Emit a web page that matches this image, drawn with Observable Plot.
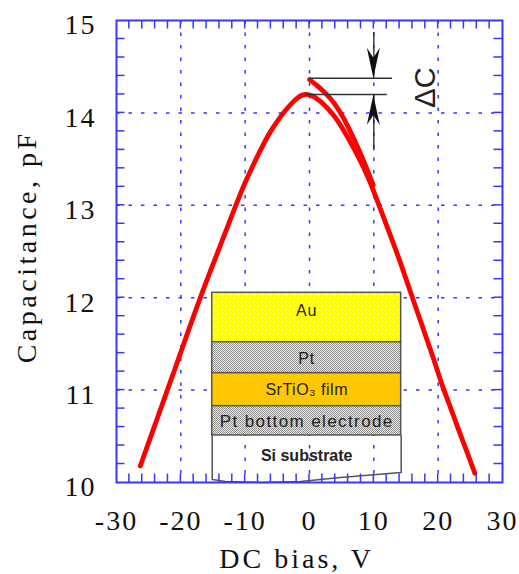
<!DOCTYPE html>
<html><head><meta charset="utf-8">
<script src="https://cdn.jsdelivr.net/npm/d3@7"></script>
<script src="https://cdn.jsdelivr.net/npm/@observablehq/plot@0.6"></script>
<style>
body{margin:0;background:#fff;}
#chart svg{display:block;}
</style></head><body><div id="chart"></div>
<script>
// ---- data ----
// forward sweep (-26 V -> +26 V), passes through the peak
const sweepBias = [-26.3, -24.5, -22.1, -20.6, -19, -17, -15.4, -13.5, -11.5, -10.2, -8.8, -7.6, -6.5, -5.6, -4.5, -3.5, -2, -0.9, 0.5, 1.7, 3.8, 5, 6.9, 8.5, 9.5, 10.7, 12.5, 14.2, 15.7, 17.5, 19.3, 20.6, 22, 23, 24.5, 25.7];
const sweepCap  = [10.18, 10.53, 11.0, 11.29, 11.61, 12.0, 12.29, 12.63, 12.99, 13.22, 13.43, 13.6, 13.75, 13.85, 13.96, 14.05, 14.16, 14.21, 14.19, 14.13, 13.98, 13.85, 13.62, 13.4, 13.24, 13.02, 12.69, 12.37, 12.06, 11.7, 11.34, 11.05, 10.8, 10.6, 10.33, 10.1];
// return branch ending at 0 V (upper, higher capacitance)
const returnBias = [0, 1.5, 3.3, 4.6, 5.9, 7.9, 9.0, 9.9];
const returnCap  = [14.36, 14.28, 14.16, 14.03, 13.87, 13.57, 13.38, 13.22];

const xTickValues = [-30, -20, -10, 0, 10, 20, 30];
const yTickValues = [10, 11, 12, 13, 14, 15];
const xGridValues = [-20, -10, 0, 10, 20];
const yGridValues = [11, 12, 13, 14];
const xMinorTicks = d3.range(1, 30).map(i => -30 + 2 * i);
const yMinorTicks = d3.range(1, 25).map(i => 10 + 0.2 * i);

const layerNames = ["Au", "Pt", "SrTiO\u2083 film", "Pt bottom electrode", "Si substrate"];
const deltaCLevels = [14.376, 14.198]; // max C of the return branch, peak of the sweep
const deltaCLabel = "\u0394C";
const xTitle = "DC bias, V";
const yTitle = "Capacitance, pF";

// ---- layout (data units) and styles ----
const inset = {x1: -15.12, x2: 14.25, bounds: [12.053, 11.518, 11.183, 10.826, 10.509],
  bottom: [[-15.12, 10.032], [-13.06, 10.011], [-7.6, 10.0], [-1.4, 10.011], [4.8, 10.054], [14.25, 10.108]]};
const fills = ["url(#auDots)", "url(#ptDots)", "#ffc800", "url(#ptDots)", "none"];
const labelStyle = [
  {size: 16, weight: "normal", spacing: 1, dy: -7},
  {size: 16, weight: "normal", spacing: 1, dy: 1},
  {size: 16, weight: "normal", spacing: 0.5, dy: 0},
  {size: 17, weight: "normal", spacing: 1.4, dy: 1},
  {size: 16, weight: "bold", spacing: 0, dy: 0}
];
const annot = {arrowX: 10, upperLine: [0, 12.9], lowerLine: [-0.6, 12.1], shaftTop: 14.87, shaftBottom: 13.59, labelX: 18.0, labelY: 14.275};
const blue = "#3636ff";
const serif = "'Liberation Serif', 'Times New Roman', serif";
const sans = "'Liberation Sans', Arial, sans-serif";

const sweep = sweepBias.map((v, i) => ({v, c: sweepCap[i]}));
const ret = returnBias.map((v, i) => ({v, c: returnCap[i]}));

const layerRects = layerNames.slice(0, 4).map((name, i) => ({name, y1: inset.bounds[i + 1], y2: inset.bounds[i]}));
const siOutline = [[inset.x1, inset.bounds[4]], ...inset.bottom, [inset.x2, inset.bounds[4]]];
const labelY = layerNames.map((n, i) => i < 4 ? (inset.bounds[i] + inset.bounds[i + 1]) / 2 : (inset.bounds[4] + 10.07) / 2);

function innerTicks(index, scales) {
  const {x, y} = scales;
  const g = d3.create("svg:g").attr("stroke", blue).attr("stroke-width", 1.5);
  const top = y(15), bottom = y(10), left = x(-30), right = x(30), L = 8.5;
  for (const v of xMinorTicks) {
    const px = x(v);
    g.append("line").attr("x1", px).attr("x2", px).attr("y1", bottom).attr("y2", bottom - L);
    g.append("line").attr("x1", px).attr("x2", px).attr("y1", top).attr("y2", top + L);
  }
  for (const v of yMinorTicks) {
    const py = y(v);
    g.append("line").attr("y1", py).attr("y2", py).attr("x1", left).attr("x2", left + L);
    g.append("line").attr("y1", py).attr("y2", py).attr("x1", right).attr("x2", right - L);
  }
  return g.node();
}

function arrowHeads(index, scales) {
  const {x, y} = scales;
  const g = d3.create("svg:g").attr("fill", "#111");
  const px = x(annot.arrowX);
  const tD = y(deltaCLevels[0]), tU = y(deltaCLevels[1]) + 1;
  const L = 30, W = 6.5, N = 10;
  g.append("path").attr("d", `M${px},${tD}L${px - W},${tD - L}L${px},${tD - L + N}L${px + W},${tD - L}Z`);
  g.append("path").attr("d", `M${px},${tU}L${px - W},${tU + L}L${px},${tU + L - N}L${px + W},${tU + L}Z`);
  return g.node();
}

const curveStyle = {x: "v", y: "c", stroke: "#ff0000", strokeWidth: 4.8, curve: "basis", strokeLinejoin: "round", strokeLinecap: "round"};

const chart = Plot.plot({
  width: 519, height: 574,
  marginTop: 20, marginBottom: 92, marginLeft: 116, marginRight: 17,
  x: {domain: [-30, 30], axis: null},
  y: {domain: [10, 15], axis: null},
  style: {background: "#fff", fontFamily: serif, color: "#111"},
  marks: [
    Plot.ruleX(xGridValues, {stroke: blue, strokeWidth: 1.5, strokeDasharray: "3.5,9"}),
    Plot.ruleY(yGridValues, {stroke: blue, strokeWidth: 1.5, strokeDasharray: "3.5,9"}),
    ...layerRects.map((r, i) => Plot.rect([r], {x1: inset.x1, x2: inset.x2, y1: "y1", y2: "y2", fill: fills[i], stroke: "#555", strokeWidth: 1.5})),
    Plot.line(siOutline, {x: d => d[0], y: d => d[1], stroke: "#555", strokeWidth: 1.5}),
    ...layerNames.map((n, i) => Plot.text([n], {
      x: (inset.x1 + inset.x2) / 2, y: labelY[i], dy: labelStyle[i].dy,
      fontFamily: sans, fontSize: labelStyle[i].size, fontWeight: labelStyle[i].weight, fill: "#222"
    })),
    Plot.line(sweep, curveStyle),
    Plot.line(ret, curveStyle),
    Plot.ruleY([deltaCLevels[0]], {x1: annot.upperLine[0], x2: annot.upperLine[1], stroke: "#333", strokeWidth: 1.5}),
    Plot.ruleY([deltaCLevels[1]], {x1: annot.lowerLine[0], x2: annot.lowerLine[1], stroke: "#333", strokeWidth: 1.5}),
    Plot.ruleX([annot.arrowX], {y1: annot.shaftTop, y2: deltaCLevels[0], stroke: "#222", strokeWidth: 1.3}),
    Plot.ruleX([annot.arrowX], {y1: deltaCLevels[1], y2: annot.shaftBottom, stroke: "#222", strokeWidth: 1.3}),
    arrowHeads,
    Plot.text([deltaCLabel], {x: annot.labelX, y: annot.labelY, rotate: -90, fontSize: 29, fontFamily: sans, fill: "#222"}),
    innerTicks,
    Plot.frame({stroke: blue, strokeWidth: 2}),
    Plot.text(xTickValues, {x: d => d, y: 10, text: d => String(d), dy: 39, fontSize: 28, fill: "#111"}),
    Plot.text(yTickValues, {x: -30, y: d => d, text: d => String(d), dx: -20, dy: 5, textAnchor: "end", fontSize: 28, fill: "#111"}),
    Plot.text([xTitle], {x: -2, y: 10, dy: 77, fontSize: 28, fill: "#111"}),
    Plot.text([yTitle], {x: -30, y: 12.55, dx: -89, rotate: -90, fontSize: 28, fill: "#111"})
  ]
});

chart.insertAdjacentHTML("afterbegin", `<defs>
<pattern id="auDots" patternUnits="userSpaceOnUse" width="8" height="8">
<rect width="8" height="8" fill="#ffff00"/><circle cx="2" cy="2" r="0.8" fill="#fff"/><circle cx="6" cy="6" r="0.8" fill="#fff"/></pattern>
<pattern id="ptDots" patternUnits="userSpaceOnUse" width="2" height="2">
<rect width="2" height="2" fill="#f0f0f0"/><rect width="1" height="1" fill="#8a8a8a"/><rect x="1" y="1" width="1" height="1" fill="#8a8a8a"/></pattern>
</defs>`);

// letter spacing of the wide-set typography in the reference
const spacing = new Map();
xTickValues.concat(yTickValues).forEach(v => spacing.set(String(v), 2));
spacing.set(xTitle, 3);
spacing.set(yTitle, 3.5);
layerNames.forEach((n, i) => spacing.set(n, labelStyle[i].spacing));
d3.select(chart).selectAll("text").each(function () {
  const t = this.textContent;
  if (spacing.has(t)) this.style.letterSpacing = spacing.get(t) + "px";
});
document.getElementById("chart").appendChild(chart);
</script></body></html>
